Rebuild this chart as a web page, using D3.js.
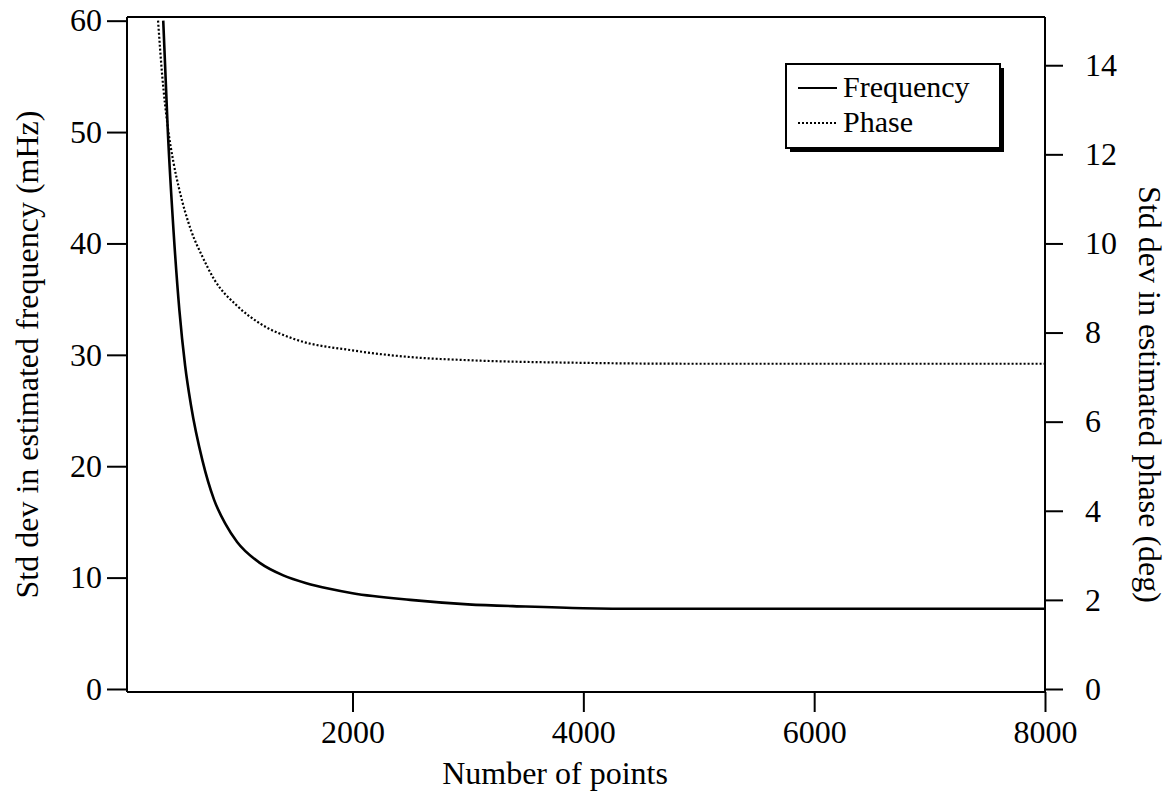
<!DOCTYPE html>
<html><head><meta charset="utf-8">
<script src="https://cdn.jsdelivr.net/npm/d3@7"></script>
<style>
body{margin:0;background:#fff;}
text{font-family:"Liberation Serif","DejaVu Serif",serif;fill:#000;}
</style></head>
<body><svg id="c" width="1175" height="794"></svg>
<script>
// Data
const freqN   = [360, 400, 450, 500, 550, 600, 700, 800, 900, 1000, 1200, 1400, 1600, 1800, 2000, 2500, 3000, 3500, 4000, 4500, 5000, 6000, 7000, 8000];
const freqVal = [60, 50, 41, 34, 29, 25.5, 20.5, 17, 14.8, 13.2, 11.3, 10.2, 9.5, 9.0, 8.6, 8.0, 7.6, 7.4, 7.25, 7.2, 7.2, 7.2, 7.2, 7.2];
const phaseN   = [315, 350, 400, 450, 500, 600, 700, 800, 1000, 1200, 1500, 2000, 2500, 3000, 4000, 5000, 6000, 7000, 8000];
const phaseVal = [15, 13.8, 12.6, 11.8, 11.2, 10.3, 9.7, 9.2, 8.6, 8.2, 7.85, 7.6, 7.45, 7.38, 7.32, 7.3, 7.3, 7.3, 7.3];
const xTicks = [2000, 4000, 6000, 8000];
const yLeftTicks = [0, 10, 20, 30, 40, 50, 60];
const yRightTicks = [0, 2, 4, 6, 8, 10, 12, 14];
const legendLabels = ["Frequency", "Phase"];

const svg = d3.select("#c");
const L = 127, R = 1045, T = 17, B = 692;
const x = d3.scaleLinear().domain([46, 8000]).range([L, R]);
const yL = d3.scaleLinear().domain([-0.27, 60.33]).range([B, T]);
const yR = d3.scaleLinear().domain([-0.0675, 15.0825]).range([B, T]);

svg.append("clipPath").attr("id","pc").append("rect")
  .attr("x", L).attr("y", T).attr("width", R-L).attr("height", B-T);

// frame
svg.append("line").attr("x1",L).attr("x2",R).attr("y1",T).attr("y2",T).attr("stroke","#000").attr("stroke-width",2);

// axes
const fs = 32;
const gx = svg.append("g").attr("transform",`translate(0,${B})`)
  .call(d3.axisBottom(x).tickValues(xTicks).tickSize(20).tickSizeOuter(0).tickPadding(8).tickFormat(d3.format("d")));
const gl = svg.append("g").attr("transform",`translate(${L},0)`)
  .call(d3.axisLeft(yL).tickValues(yLeftTicks).tickSize(20).tickSizeOuter(0).tickPadding(5).tickFormat(d3.format("d")));
const gr = svg.append("g").attr("transform",`translate(${R},0)`)
  .call(d3.axisRight(yR).tickValues(yRightTicks).tickSize(18).tickSizeOuter(0).tickPadding(22).tickFormat(d3.format("d")));
[gx, gl, gr].forEach(g => {
  g.select(".domain").attr("stroke","#000").attr("stroke-width",2);
  g.selectAll(".tick line").attr("stroke","#000").attr("stroke-width",2);
  g.selectAll(".tick text").attr("font-family","Liberation Serif, serif").attr("font-size",fs).attr("fill","#000");
});
gx.select(".domain").attr("d",`M${L},0H${R}`);
gl.select(".domain").attr("d",`M0,${T}V${B}`);
gr.select(".domain").attr("d",`M0,${T}V${B}`);

// lines
const fData = freqN.map((n,i)=>[n,freqVal[i]]);
const pData = phaseN.map((n,i)=>[n,phaseVal[i]]);
const g = svg.append("g").attr("clip-path","url(#pc)");
g.append("path").datum(fData)
  .attr("d", d3.line().x(d=>x(d[0])).y(d=>yL(d[1])).curve(d3.curveMonotoneX))
  .attr("fill","none").attr("stroke","#000").attr("stroke-width",2.6);
g.append("path").datum(pData)
  .attr("d", d3.line().x(d=>x(d[0])).y(d=>yR(d[1])).curve(d3.curveMonotoneX))
  .attr("fill","none").attr("stroke","#000").attr("stroke-width",2.2).attr("stroke-dasharray","2,2");

// axis titles
svg.append("text").attr("x", 555).attr("y", 784).attr("text-anchor","middle")
  .attr("font-size",fs).text("Number of points");
svg.append("text").attr("transform",`translate(38,${(T+B)/2}) rotate(-90)`).attr("text-anchor","middle")
  .attr("font-size",fs).text("Std dev in estimated frequency (mHz)");
svg.append("text").attr("transform",`translate(1139,${(T+B)/2+40}) rotate(90)`).attr("text-anchor","middle")
  .attr("font-size",fs).text("Std dev in estimated phase (deg)");

// legend
const lfs = 30;
const lx = 786, ly = 64, lw = 214, lh = 84;
svg.append("rect").attr("x",lx+4).attr("y",ly+4).attr("width",lw).attr("height",lh).attr("fill","#000");
svg.append("rect").attr("x",lx).attr("y",ly).attr("width",lw).attr("height",lh).attr("fill","#fff").attr("stroke","#000").attr("stroke-width",2);
const styles = [{w:2.2, dash:null},{w:2, dash:"2,2"}];
legendLabels.forEach((lab,i)=>{
  const yy = ly + 24 + i*35;
  svg.append("line").attr("x1",lx+12).attr("x2",lx+51).attr("y1",yy).attr("y2",yy)
    .attr("stroke","#000").attr("stroke-width",styles[i].w).attr("stroke-dasharray",styles[i].dash);
  svg.append("text").attr("x",lx+57).attr("y",yy+9).attr("font-size",lfs).text(lab);
});
</script></body></html>
